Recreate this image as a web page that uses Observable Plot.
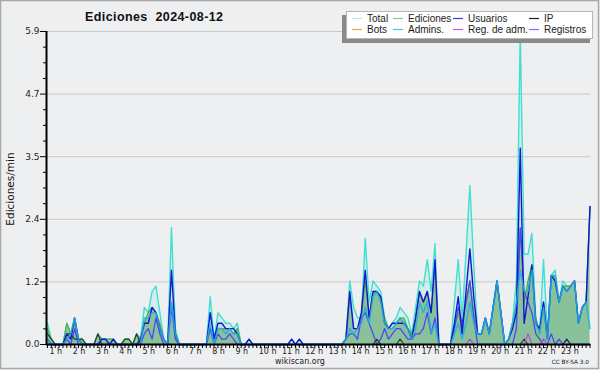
<!DOCTYPE html>
<html><head><meta charset="utf-8">
<script src="https://cdn.jsdelivr.net/npm/d3@7"></script>
<script src="https://cdn.jsdelivr.net/npm/@observablehq/plot@0.6"></script>
<style>
html,body{margin:0;padding:0;background:#eeeff1;}
#chart{width:600px;height:370px;}
</style></head><body><div id="chart"></div>
<script>
// 10-minute buckets (edits per minute), index 0..140
const total = [
 0.4,0.1,0,0,0,0.4,0.2,0.5,0.1,0.1,
 0,0,0,0.2,0.1,0.1,0.1,0.1,0,0,
 0.1,0.1,0,0.2,0.1,0.7,0.6,1.0,1.1,0.6,
 0.1,0,2.2,0.3,0,0,0,0,0,0,
 0,0,0.9,0.1,0.6,0.5,0.4,0.4,0.3,0.4,
 0,0,0.1,0,0,0,0,0,0,0,
 0,0,0,0.1,0,0.1,0,0,0,0,
 0,0,0,0,0,0,0,0.1,1.2,0.7,
 0.5,0.5,2.0,0.8,1.2,1.1,1.0,0.5,0.3,0.4,
 0.5,0.7,0.6,0.5,0.2,0.7,1.2,1.1,1.6,1.0,
 1.9,0,0,0,0,0.8,1.6,0.5,1.7,3.0,
 1.5,0.2,0.2,0.5,0.2,0.7,1.2,0.6,0,0.1,
 0.4,1.2,5.9,1.7,1.7,2.1,0.5,0.2,1.6,0.2,
 1.3,1.4,0.8,1.2,1.1,1.1,1.2,0.4,0.7,0.8,
 2.6];
const ediciones = [
 0.3,0.1,0,0,0,0.4,0.2,0.4,0.1,0.1,
 0,0,0,0.2,0.1,0.1,0.1,0.1,0,0,
 0.1,0.1,0,0.2,0.1,0.4,0.6,0.7,0.6,0.4,
 0.1,0,0.8,0.2,0,0,0,0,0,0,
 0,0,0.3,0.1,0.3,0.3,0.3,0.3,0.2,0.3,
 0,0,0,0,0,0,0,0,0,0,
 0,0,0,0,0,0,0,0,0,0,
 0,0,0,0,0,0,0,0.1,0.9,0.3,
 0.3,0.5,1.2,0.5,1.0,1.0,0.9,0.5,0.3,0.3,
 0.4,0.5,0.5,0.3,0.2,0.5,1.0,0.8,1.0,0.6,
 1.5,0,0,0,0,0.3,0.6,0.3,0.8,1.2,
 0.6,0.2,0.2,0.5,0.2,0.7,1.2,0.6,0,0.1,
 0.4,0.7,2.2,0.8,1.2,1.5,0.5,0.2,0.8,0.1,
 1.3,1.3,0.8,1.1,1.1,1.1,1.2,0.4,0.7,0.8,
 2.6];
const usuarios = [
 0.1,0,0,0,0,0.2,0.1,0.5,0.1,0,
 0,0,0,0,0.1,0.1,0,0.1,0,0,
 0,0,0,0,0.1,0.4,0.4,0.7,0.6,0.3,
 0.1,0,1.4,0.2,0,0,0,0,0,0,
 0,0,0.6,0.1,0.4,0.4,0.3,0.3,0.3,0.2,
 0,0,0.1,0,0,0,0,0,0,0,
 0,0,0,0.1,0,0.1,0,0,0,0,
 0,0,0,0,0,0,0,0.1,1.0,0.3,
 0.3,0.6,1.4,0.5,1.0,1.0,0.9,0.4,0.3,0.4,
 0.4,0.4,0.4,0.3,0.1,0.5,1.0,0.8,1.0,0.6,
 1.6,0,0,0,0,0.4,0.9,0.2,1.0,1.8,
 0.9,0.2,0.2,0.5,0.2,0.7,1.2,0.6,0,0.1,
 0.3,0.6,3.7,0.4,0.9,1.5,0.4,0.3,0.8,0.1,
 1.3,1.2,0.8,1.1,1.0,1.1,1.2,0.4,0.7,0.8,
 2.6];
const ip = [
 0.2,0.1,0,0,0,0.2,0.2,0.1,0.1,0.1,
 0,0,0,0.2,0,0,0,0,0,0,
 0.1,0.1,0,0.2,0,0,0,0,0,0,
 0,0,0,0,0,0,0,0,0,0,
 0,0,0,0,0,0,0,0,0,0,
 0,0,0,0,0,0,0,0,0,0,
 0,0,0,0,0,0,0,0,0,0,
 0,0,0,0,0,0,0,0,0,0,
 0,0,0,0,0,0.1,0,0,0,0,
 0,0.1,0,0,0,0,0,0,0,0,
 0,0,0,0,0,0,0,0,0,0,
 0,0,0,0,0,0,0,0,0,0,
 0,0,0,0.1,0,0,0,0,0,0,
 0,0,0,0,0.1,0,0,0,0,0,
 0];
const bots = [
 0,0,0,0,0,0,0,0,0,0, 0,0,0,0,0,0,0,0,0,0, 0,0,0,0,0,0,0,0,0,0,
 0,0,0,0,0,0,0,0,0,0, 0,0,0,0,0,0,0,0,0,0, 0,0,0,0,0,0,0,0,0,0,
 0,0,0,0,0,0,0,0,0,0, 0,0,0,0,0,0,0,0,0,0, 0,0,0,0,0,0,0,0,0,0,
 0,0,0,0,0,0,0,0,0,0, 0,0,0,0,0,0,0,0,0,0, 0,0,0,0,0,0,0,0,0,0,
 0,0,0,0,0,0,0,0,0,0, 0,0,0,0,0,0,0,0,0,0, 0];
const admins = [
 0.1,0,0,0,0,0.1,0.2,0.5,0.1,0,
 0,0,0,0,0,0,0,0,0,0,
 0,0,0,0,0,0.5,0.5,0.6,0.6,0.3,
 0.1,0,0.8,0.2,0,0,0,0,0,0,
 0,0,0.4,0,0.3,0.3,0.2,0.3,0.2,0.2,
 0,0,0,0,0,0,0,0,0,0,
 0,0,0,0,0,0,0,0,0,0,
 0,0,0,0,0,0,0,0.1,0.3,0.2,
 0.3,0.4,0.7,0.4,0.9,1.0,0.8,0.4,0.3,0.3,
 0.4,0.5,0.4,0.3,0.1,0.3,0.8,0.6,0.8,0.2,
 0.4,0,0,0,0,0.2,0.4,0.1,0.4,0.8,
 0.4,0.2,0.2,0.5,0.2,0.7,1.2,0.6,0,0.1,
 0.4,0.8,1.4,1.0,1.0,1.4,0.4,0.2,0.7,0.1,
 1.3,1.3,0.8,1.1,1.0,1.1,1.2,0.4,0.7,0.8,
 0.3];
const regAdm = [
 0,0,0,0,0,0,0,0,0,0, 0,0,0,0,0,0,0,0,0,0, 0,0,0,0,0,0,0,0,0,0,
 0,0,0,0,0,0,0,0,0,0, 0,0,0,0,0,0,0,0,0,0, 0,0,0,0,0,0,0,0,0,0,
 0,0,0,0,0,0,0,0,0,0, 0,0,0,0,0,0,0,0,0,0, 0,0,0,0,0,0,0,0,0,0,
 0,0,0,0,0,0,0,0,0,0, 0,0,0,0,0,0,0,0,0,0.1, 0,0,0,0,0,0,0,0,0,0,
 0,0,0,0,0.2,0,0,0,0.1,0, 0,0,0,0,0,0,0,0,0,0, 0];
const registros = [
 0,0,0,0,0,0.1,0,0.3,0,0,
 0,0,0,0,0,0,0,0,0,0,
 0,0,0,0,0,0.2,0.3,0.1,0.5,0.2,
 0,0,0.7,0.1,0,0,0,0,0,0,
 0,0,0.3,0,0.2,0.1,0.1,0.2,0.1,0,
 0,0,0,0,0,0,0,0,0,0,
 0,0,0,0,0,0,0,0,0,0,
 0,0,0,0,0,0,0,0.1,0.2,0.2,
 0.1,0.5,0.6,0.4,0.2,0,0.1,0.3,0.1,0.2,
 0.3,0.3,0.2,0.1,0.1,0.2,0.2,0.3,0.6,0.2,
 0.5,0,0,0,0,0.3,0.7,0.4,0.8,1.2,
 0.5,0,0,0,0,0,0,0,0,0,
 0,0.3,2.2,1.0,0.8,0.6,0.2,0.1,0,0,
 0.2,0,0.1,0,0.1,0,0,0,0,0,
 0];

const hourLabels = ["1 h","2 h","3 h","4 h","5 h","6 h","7 h","8 h","9 h","10 h","11 h","12 h",
  "13 h","14 h","15 h","16 h","17 h","18 h","19 h","20 h","21 h","22 h","23 h"];
const yTicks = [0, 1.18, 2.36, 3.54, 4.72, 5.9];
const yMinor = [0.295,0.59,0.885,1.475,1.77,2.065,2.655,2.95,3.245,3.835,4.13,4.425,5.015,5.31,5.605];
const legendItems = [
  {name:"Total", color:"#b4ebe6"}, {name:"Ediciones", color:"#7fcf86"},
  {name:"Usuarios", color:"#3c3ce0"}, {name:"IP", color:"#222222"},
  {name:"Bots", color:"#ffa040"}, {name:"Admins.", color:"#3ccbe0"},
  {name:"Reg. de adm.", color:"#d050e8"}, {name:"Registros", color:"#7878ff"}
];

const rows = total.map((t, i) => ({
  i, total: t, ed: ediciones[i], users: usuarios[i], ip: ip[i], bots: bots[i],
  admins: admins[i], regAdm: regAdm[i], reg: registros[i]
}));
const idx = rows.map(d => d.i);

const svg = Plot.plot({
  width: 600, height: 370,
  marginLeft: 46, marginRight: 10, marginTop: 31, marginBottom: 26,
  style: {background: "#eeeff1", fontFamily: "DejaVu Sans, sans-serif"},
  x: {domain: [-0.25, 140.125], axis: null},
  y: {domain: [0, 5.9], axis: null},
  marks: [
    Plot.ruleY(yTicks.slice(1), {stroke: "#c9c9c9", strokeWidth: 1}),
    Plot.areaY(rows, {x: "i", y: "total", fill: "#40e0d0", fillOpacity: 0.15}),
    Plot.areaY(rows, {x: "i", y: "ed", fill: "#8fca99"}),
    Plot.areaY(rows, {x: "i", y: "users", fill: "#2a2ac8", fillOpacity: 0.05}),
    Plot.lineY(rows, {x: "i", y: "bots", stroke: "#ffa040", strokeWidth: 1}),
    Plot.lineY(rows, {x: "i", y: "total", stroke: "#40e0d0", strokeWidth: 1.4}),
    Plot.lineY(rows, {x: "i", y: "ed", stroke: "#4db04d", strokeWidth: 1.2}),
    Plot.lineY(rows, {x: "i", y: "reg", stroke: "#4a4af2", strokeWidth: 1.3}),
    Plot.lineY(rows, {x: "i", y: "ip", stroke: "#2e3b30", strokeWidth: 1.2}),
    Plot.lineY(rows, {x: "i", y: "regAdm", stroke: "#c040e0", strokeWidth: 1.2}),
    Plot.lineY(rows, {x: "i", y: "users", stroke: "#1414d2", strokeWidth: 1.4}),
    Plot.lineY(rows, {x: "i", y: "admins", stroke: "#22aee0", strokeWidth: 1.5, strokeOpacity: 0.85}),
    Plot.ruleX([-0.25], {stroke: "#000", strokeWidth: 2}),
    Plot.ruleY([0], {stroke: "#000", strokeWidth: 2}),
    Plot.axisX(idx, {tickSize: 4, tickFormat: () => "", stroke: "#000", label: null}),
    Plot.axisY(yMinor, {tickSize: 3, tickFormat: () => "", stroke: "#000", label: null}),
    Plot.axisY(yTicks, {tickSize: 6, tickPadding: 1, fontSize: 9, fill: "#222", stroke: "#000",
      label: null, tickFormat: d => d.toFixed(1)}),
    Plot.text(hourLabels, {x: (d, k) => 6 * k, frameAnchor: "bottom", dy: 4, dx: 2,
      lineAnchor: "top", textAnchor: "start", fontSize: 8, fill: "#222"})
  ]
});

const s = d3.select(svg);
// title
s.append("text").attr("x", 85).attr("y", 21).attr("text-anchor", "start")
  .attr("font-family", "Liberation Sans, Arial, sans-serif").attr("font-weight", "bold")
  .attr("font-size", 12.5).attr("fill", "#111")
  .attr("textLength", 138).attr("lengthAdjust", "spacing")
  .text("Ediciones  2024-08-12");
// y label
s.append("text").attr("transform", "translate(14,189) rotate(-90)")
  .attr("text-anchor", "middle").attr("font-size", 10.5).attr("fill", "#111")
  .text("Ediciones/min");
// footer
s.append("text").attr("x", 300).attr("y", 364).attr("text-anchor", "middle")
  .attr("font-size", 8).attr("fill", "#222").text("wikiscan.org");
s.append("text").attr("x", 589).attr("y", 364).attr("text-anchor", "end")
  .attr("font-size", 5.8).attr("fill", "#222").text("CC BY-SA 3.0");
// legend
const lg = s.append("g");
lg.append("rect").attr("x", 342).attr("y", 15).attr("width", 248).attr("height", 28).attr("fill", "#8a8a8a");
lg.append("rect").attr("x", 346.5).attr("y", 11.5).attr("width", 246).attr("height", 27)
  .attr("fill", "#fff").attr("stroke", "#b5b5b5");
const colX = [352, 393, 453, 529];
legendItems.forEach((d, k) => {
  const cx = colX[k % 4], cy = k < 4 ? 18.5 : 29.5;
  lg.append("line").attr("x1", cx).attr("x2", cx + 10).attr("y1", cy).attr("y2", cy)
    .attr("stroke", d.color).attr("stroke-width", 1.2);
  lg.append("text").attr("x", cx + 15).attr("y", cy).attr("dy", "0.35em").attr("text-anchor", "start")
    .attr("font-family", "Liberation Sans, Arial, sans-serif")
    .attr("font-size", 10).attr("fill", "#222").text(d.name);
});
// frame border
s.append("rect").attr("x", 0.5).attr("y", 0.5).attr("width", 598).attr("height", 368)
  .attr("fill", "none").attr("stroke", "#a8a8a8").attr("stroke-width", 1.5);

document.getElementById("chart").appendChild(svg);
</script></body></html>
